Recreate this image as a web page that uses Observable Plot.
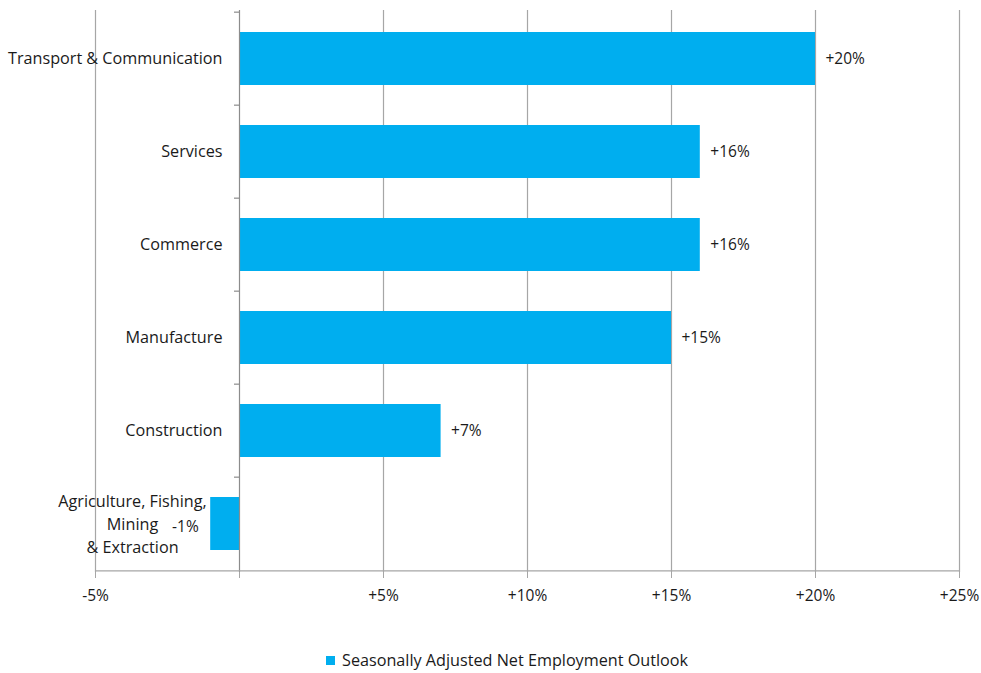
<!DOCTYPE html>
<html>
<head>
<meta charset="utf-8">
<script src="https://cdn.jsdelivr.net/npm/d3@7"></script>
<script src="https://cdn.jsdelivr.net/npm/@observablehq/plot@0.6"></script>
<style>
  body { margin: 0; background: #fff; font-family: "Open Sans", sans-serif; }
  #wrap { position: relative; width: 981px; height: 673px; }
  #legend { position: absolute; top: 649px; left: 326px; font-size: 16.2px; color: #1a1a1a; display: flex; align-items: center; gap: 7px; }
  #legend span.sw { display: inline-block; width: 9px; height: 9px; background: #00AEEF; }
</style>
</head>
<body>
<div id="wrap">
  <div id="chart"></div>
  <div id="legend"><span class="sw"></span><span>Seasonally Adjusted Net Employment Outlook</span></div>
</div>
<script>
const categories = ["Transport & Communication", "Services", "Commerce", "Manufacture", "Construction", "Agriculture, Fishing, Mining & Extraction"];
const categoryLabels = ["Transport & Communication", "Services", "Commerce", "Manufacture", "Construction", "Agriculture, Fishing,\nMining\n& Extraction"];
const values = [20, 16, 16, 15, 7, -1];
const xTicks = [-5, 0, 5, 10, 15, 20, 25];
const gridTicks = [-5, 5, 10, 15, 20, 25];

const data = categories.map((c, i) => ({cat: c, label: categoryLabels[i], value: values[i]}));
const fmt = v => v === 0 ? "" : (v > 0 ? "+" : "") + v + "%";

const W = 981, H = 630, mT = 10, mB = 58, mL = 95, mR = 22;
const step = (H - mT - mB) / categories.length;
const color = "#00AEEF";
const grid = "#a6a6a6";
const ink = "#1a1a1a";

const chart = Plot.plot({
  width: W, height: H,
  marginTop: mT, marginBottom: mB, marginLeft: mL, marginRight: mR,
  style: {fontFamily: "Open Sans, sans-serif", fontSize: "16px", color: ink, background: "#fff"},
  x: {domain: [-5, 25], ticks: xTicks, tickFormat: fmt, label: null},
  y: {domain: categories, paddingInner: 0.43, paddingOuter: 0.215, axis: null},
  marks: [
    Plot.ruleX(gridTicks, {stroke: grid, strokeWidth: 1.2}),
    Plot.barX(data, {x: "value", y: "cat", fill: color}),
    Plot.ruleX([0], {stroke: "#8c8c8c", strokeWidth: 1.2}),
    Plot.ruleY(categories, {x1: 0, x2: 0, insetLeft: -5, dy: -step / 2, stroke: "#8c8c8c", strokeWidth: 1.2}),
    Plot.ruleY([categories[categories.length - 1]], {dy: step / 2, stroke: grid, strokeWidth: 1.4}),
    Plot.axisX({ticks: xTicks, tickFormat: fmt, tickSize: 6, tickPadding: 11, stroke: grid, fontSize: "15.5px", fill: ink, label: null}),
    Plot.text(data.slice(0, 5), {x: 0, y: "cat", text: "label", dx: -17, textAnchor: "end", fill: ink, fontSize: 16.2}),
    Plot.text(data.slice(5), {x: 0, y: "cat", text: "label", dx: -107, dy: -1, textAnchor: "middle", lineHeight: 1.42, fill: ink, fontSize: 16.2}),
    Plot.text(data, {x: "value", y: "cat", text: d => fmt(d.value), filter: d => d.value > 0, dx: 10, textAnchor: "start", fill: ink, fontSize: 15.5}),
    Plot.text(data, {x: "value", y: "cat", text: d => fmt(d.value), filter: d => d.value < 0, dx: -12, dy: 3, textAnchor: "end", fill: ink, fontSize: 15.5})
  ]
});
document.getElementById("chart").appendChild(chart);
</script>
</body>
</html>
